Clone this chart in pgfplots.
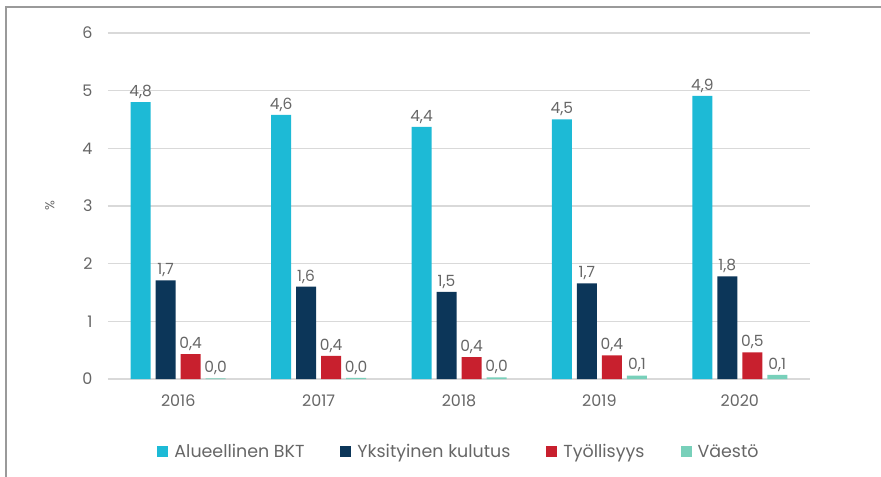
\documentclass[border=0pt]{standalone}
\usepackage{fontspec}
\setmainfont{Poppins}
\usepackage{pgfplots}
\pgfplotsset{compat=1.18}

\definecolor{cBKT}{HTML}{1DBAD6}
\definecolor{cYks}{HTML}{0C3659}
\definecolor{cTyo}{HTML}{C8202E}
\definecolor{cVae}{HTML}{78D0BA}
\definecolor{gridc}{HTML}{D9D9D9}
\definecolor{txt}{HTML}{666666}
\definecolor{framec}{HTML}{9A9A9A}

\begin{document}
\begin{tikzpicture}
\useasboundingbox (-108bp,-98bp) rectangle (773bp,379bp);
\draw[framec, line width=1.3bp] (-102bp,-98bp) -- (-102bp,372bp) -- (773bp,372bp);
\begin{axis}[
  scale only axis, width=702bp, height=346bp,
  ybar=5bp, bar width=20bp,
  xmin=-0.5, xmax=4.5, ymin=0, ymax=6,
  xtick={0,1,2,3,4}, xticklabels={2016,2017,2018,2019,2020},
  ytick={0,1,2,3,4,5,6},
  ymajorgrids, grid style={gridc, line width=1.3bp},
  axis line style={draw=none}, tick style={draw=none},
  /pgf/number format/assume math mode=true,
  tick label style={font=\fontsize{16}{18}\selectfont, text=txt},
  yticklabel style={xshift=-12bp},
  xticklabel style={yshift=-8bp},
  ylabel={\%},
  every axis y label/.style={at={(axis description cs:-0.083,0.5)}, anchor=center, rotate=90, font=\fontsize{13}{15}\selectfont, text=txt},
  nodes near coords={\pgfmathprintnumber[fixed,fixed zerofill,precision=1,use comma,assume math mode=true]{\pgfplotspointmeta}},
  every node near coord/.append style={font=\fontsize{15.5}{18}\selectfont, text=txt, yshift=0bp},
  legend style={at={(axis description cs:0.5,-0.21)}, anchor=center, draw=none, fill=none,
    font=\fontsize{17.5}{19}\selectfont, text=txt,
    /tikz/every odd column/.append style={column sep=4bp},
    /tikz/every even column/.append style={column sep=34bp}},
  legend columns=4,
  legend image code/.code={\fill[#1,draw=none] (0bp,-5bp) rectangle (11bp,6bp);},
]
\addplot[fill=cBKT, draw=none] coordinates {(0,4.80) (1,4.58) (2,4.37) (3,4.50) (4,4.91)};
\addplot[fill=cYks, draw=none] coordinates {(0,1.71) (1,1.60) (2,1.51) (3,1.66) (4,1.78)};
\addplot[fill=cTyo, draw=none] coordinates {(0,0.43) (1,0.40) (2,0.38) (3,0.41) (4,0.46)};
\addplot[fill=cVae, draw=none] coordinates {(0,0.01) (1,0.02) (2,0.03) (3,0.06) (4,0.07)};
\legend{Alueellinen BKT, Yksityinen kulutus, Työllisyys, Väestö}
\end{axis}
\end{tikzpicture}
\end{document}
